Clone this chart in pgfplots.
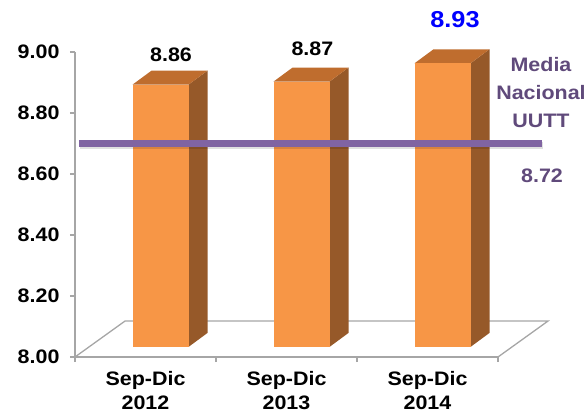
\documentclass[border=0pt]{standalone}
\usepackage{fontspec}
\setmainfont{Liberation Sans}[FakeStretch=1.1]
\usepackage{pgfplots}
\pgfplotsset{compat=1.18}
\definecolor{barfront}{HTML}{F79646}
\definecolor{bartop}{HTML}{BF6D2E}
\definecolor{barside}{HTML}{965929}
\definecolor{axgray}{HTML}{A6A6A6}
\definecolor{purpline}{HTML}{8064A2}
\definecolor{purptext}{HTML}{604A7B}

\newcommand\threedbar[2]{%
 \pgfmathsetmacro\xa{#1-0.092}%
 \pgfmathsetmacro\xb{#1+0.305}%
 \pgfmathsetmacro\xc{#1+0.44}%
 \pgfmathsetmacro\xd{#1+0.043}%
 \pgfmathsetmacro\ya{#2+0.033}%
 \pgfmathsetmacro\yb{#2+0.079}%
 \edef\tmp{%
  \noexpand\addplot[fill=barside,draw=none] coordinates {(\xb,8.033) (\xc,8.079) (\xc,\yb) (\xb,\ya)} -- cycle;
  \noexpand\addplot[fill=bartop,draw=none] coordinates {(\xa,\ya) (\xb,\ya) (\xc,\yb) (\xd,\yb)} -- cycle;
  \noexpand\addplot[fill=barfront,draw=none] coordinates {(\xa,8.033) (\xb,8.033) (\xb,\ya) (\xa,\ya)} -- cycle;
 }\tmp}

\begin{document}
\begin{tikzpicture}
\path[use as bounding box] (0,0) rectangle (587pt,413pt);
\begin{axis}[
  at={(75pt,56pt)}, anchor=south west,
  scale only axis, width=423pt, height=305pt,
  xmin=-0.5, xmax=2.5, ymin=8, ymax=9,
  clip=false,
  axis x line*=bottom, axis y line*=left,
  axis line style={draw=axgray, line width=1.3pt},
  xtick={0,1,2},
  xticklabels={{Sep-Dic\\2012},{Sep-Dic\\2013},{Sep-Dic\\2014}},
  major x tick style={draw=none},
  minor xtick={-0.5,0.5,1.5,2.5},
  minor x tick style={draw=axgray, line width=1.3pt},
  ytick={8,8.2,8.4,8.6,8.8,9},
  y tick style={draw=axgray, line width=1.3pt},
  tick align=outside,
  major tick length=5pt, minor tick length=5pt,
  ticklabel style={font=\fontsize{19.5}{23.5}\selectfont\bfseries},
  xticklabel style={align=center, yshift=-6pt},
  yticklabel style={xshift=-7pt},
  /pgf/number format/.cd, fixed, fixed zerofill, precision=2, assume math mode=true,
]
% floor
\draw[draw=axgray, line width=1.3pt] (axis cs:-0.5,8) -- (axis cs:-0.145,8.118) -- (axis cs:2.855,8.118) -- (axis cs:2.5,8);
% bars
\threedbar{0}{8.86}
\threedbar{1}{8.87}
\threedbar{2}{8.93}
% national mean line with shadow
\addplot[draw=black, opacity=0.12, line width=7pt] coordinates {(-0.465,8.692) (2.82,8.692)};
\addplot[draw=purpline, line width=7pt] coordinates {(-0.472,8.70) (2.812,8.70)};
% labels
\node[font=\fontsize{19.5}{24}\selectfont\bfseries] at (axis cs:0.181,8.990) {8.86};
\node[font=\fontsize{19.5}{24}\selectfont\bfseries] at (axis cs:1.184,9.010) {8.87};
\node[font=\fontsize{23}{27}\selectfont\bfseries, text=blue] at (axis cs:2.195,9.107) {8.93};
\node[font=\fontsize{19.5}{28}\selectfont\bfseries, text=purptext, align=center] at (axis cs:2.805,8.866) {Media\\Nacional\\UUTT};
\node[font=\fontsize{19.5}{24}\selectfont\bfseries, text=purptext] at (axis cs:2.812,8.593) {8.72};
\end{axis}
\end{tikzpicture}
\end{document}
